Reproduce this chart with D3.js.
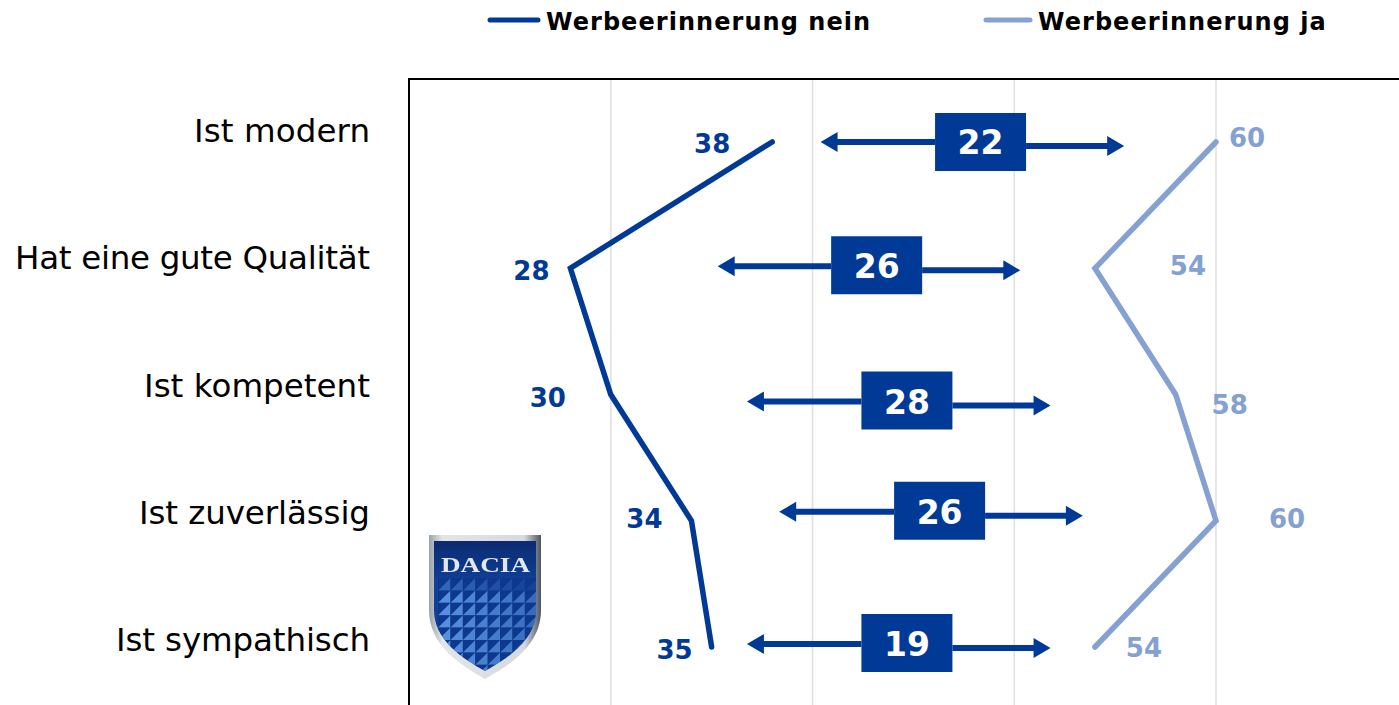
<!DOCTYPE html>
<html><head><meta charset="utf-8">
<script src="https://cdn.jsdelivr.net/npm/d3@7"></script>
<style>html,body{margin:0;padding:0;background:#fff;overflow:hidden}svg{display:block}text{font-family:"DejaVu Sans",Verdana,sans-serif}</style>
</head><body><svg id="c" width="1399" height="705"></svg>
<script>
const categories = ["Ist modern","Hat eine gute Qualität","Ist kompetent","Ist zuverlässig","Ist sympathisch"];
const nein = [38,28,30,34,35];
const ja = [60,54,58,60,54];
const gaps = [22,26,28,26,19];
const arrowLeft = [40.4,35.3,36.75,38.35,36.75];
const arrowRight = [55.45,50.3,51.8,53.4,51.8];
const gapCenter = [48.33,43.18,44.68,46.3,44.68];
const gridTicks = [30,40,50,60];
const seriesNames = ["Werbeerinnerung nein","Werbeerinnerung ja"];

const W=1399,H=705;
const dark="#003a96", light="#84a1d1";
const svg=d3.select("#c");
const x=d3.scaleLinear().domain([20,60]).range([409,1216]);
const y=d3.scalePoint().domain(categories).range([142,647]);
const yLabel=d3.scalePoint().domain(categories).range([142,651]);

// offsets of the labels from their points
const neinDx=[-60,-39,-63,-47,-37], neinDy=[1,2,2,-3,2];
const jaDx=[31,93,54,71,49], jaDy=[-5,-3,9,-3,0];
const boxDy=[0,-3,6,-10,-4];
const arrowDy=[0,1,1,1,1];
const labelWidths=[176,355,226,231,254];

// grid + frame
svg.append("g").selectAll("line").data(gridTicks).join("line")
 .attr("x1",d=>x(d)).attr("x2",d=>x(d)).attr("y1",79).attr("y2",H)
 .attr("stroke","#e0e0e0").attr("stroke-width",1.6);
svg.append("path").attr("d",`M${x(20)},${H}V79H${W}`).attr("fill","none").attr("stroke","#000").attr("stroke-width",2);

// category labels
svg.append("g").selectAll("text").data(categories).join("text")
 .attr("x",(c,i)=>370-labelWidths[i]).attr("y",c=>yLabel(c)).attr("font-size",32.5)
 .attr("textLength",(c,i)=>labelWidths[i]).attr("lengthAdjust","spacing").attr("fill","#000").text(c=>c);

// lines
const line=d3.line().x(d=>x(d.v)).y(d=>y(d.c));
[[nein,dark],[ja,light]].forEach(([s,col])=>{
 svg.append("path").datum(s.map((v,i)=>({v,c:categories[i]}))).attr("d",line)
  .attr("fill","none").attr("stroke",col).attr("stroke-width",5.5).attr("stroke-linecap","round").attr("stroke-linejoin","miter");
});

// value labels
function vals(s,col,dx,dy){
 svg.append("g").selectAll("text").data(s).join("text")
  .attr("x",(d,i)=>x(d)+dx[i]).attr("y",(d,i)=>y(categories[i])+dy[i]+10)
  .attr("text-anchor","middle").attr("font-size",26).attr("font-weight","bold").attr("fill",col).text(d=>d);
}
vals(nein,dark,neinDx,neinDy);
vals(ja,light,jaDx,jaDy);

// gap arrows + boxes
const bw=91,bh=58;
gaps.forEach((g,i)=>{
 const cy=y(categories[i])+boxDy[i], bx=x(gapCenter[i]);
 const gr=svg.append("g");
 const ly=cy+arrowDy[i], ry=ly+4;
 gr.append("line").attr("x1",bx-bw/2).attr("x2",x(arrowLeft[i])+14).attr("y1",ly).attr("y2",ly).attr("stroke",dark).attr("stroke-width",6);
 gr.append("path").attr("fill",dark).attr("d",`M${x(arrowLeft[i])},${ly}l17,-10v20z`);
 gr.append("line").attr("x1",bx+bw/2).attr("x2",x(arrowRight[i])-14).attr("y1",ry).attr("y2",ry).attr("stroke",dark).attr("stroke-width",6);
 gr.append("path").attr("fill",dark).attr("d",`M${x(arrowRight[i])},${ry}l-17,-10v20z`);
 gr.append("rect").attr("x",bx-bw/2).attr("y",cy-bh/2).attr("width",bw).attr("height",bh).attr("fill",dark);
 gr.append("text").attr("x",bx).attr("y",cy+12+arrowDy[i]).attr("text-anchor","middle").attr("font-size",33).attr("font-weight","bold").attr("fill","#fff").text(g);
});

// legend
[[488,540,546,dark,0],[984,1032,1038,light,1]].forEach(([a,b,t,col,i])=>{
 svg.append("line").attr("x1",a+2).attr("x2",b-2).attr("y1",20).attr("y2",20).attr("stroke",col).attr("stroke-width",5).attr("stroke-linecap","round");
 svg.append("text").attr("x",t).attr("y",30).attr("font-size",24).attr("font-weight","bold").attr("letter-spacing",1.05).attr("fill","#000").text(seriesNames[i]);
});

// logo
const logo=svg.append("g").attr("filter","url(#soft)");
const defs=svg.append("defs");
defs.append("filter").attr("id","soft").append("feGaussianBlur").attr("stdDeviation",0.5);
const g1=defs.append("linearGradient").attr("id","sh").attr("x1",0).attr("x2",0).attr("y1",0).attr("y2",1);
[[0,"#0b2a70"],[0.3,"#123f97"],[1,"#0f3f95"]].forEach(s=>g1.append("stop").attr("offset",s[0]).attr("stop-color",s[1]));
const g2=defs.append("linearGradient").attr("id","rim").attr("x1",0).attr("x2",1).attr("y1",0).attr("y2",0);
[[0,"#9aa2aa"],[0.12,"#e2e6e9"],[0.85,"#d5dade"],[1,"#4d5660"]].forEach(s=>g2.append("stop").attr("offset",s[0]).attr("stop-color",s[1]));
const outer="M429,535H541V610C541,645 510,665 485,679C460,665 429,645 429,610Z";
const inner="M434,541H536V610C536,640 508,658 485,671C462,658 434,640 434,610Z";
logo.append("path").attr("d",outer).attr("fill","url(#rim)");
logo.append("path").attr("d",inner).attr("fill","url(#sh)");
defs.append("clipPath").attr("id","ic").append("path").attr("d",inner);
const tg=logo.append("g").attr("clip-path","url(#ic)");
d3.range(0,8).forEach(r=>d3.range(0,8).forEach(c=>{
 const s=12.4, px=438+c*s, py=578+r*s, a=(r===0?0.45:0.95)-c*0.06;
 tg.append("path").attr("d",`M${px},${py+s}L${px+s},${py}V${py+s}Z`).attr("fill","#5a94e0").attr("opacity",a);
 tg.append("path").attr("d",`M${px},${py}H${px+s}L${px},${py+s}Z`).attr("fill","#0a3288").attr("opacity",.6);
}));
logo.append("text").attr("x",441).attr("y",572).attr("textLength",89).attr("lengthAdjust","spacingAndGlyphs").attr("font-size",20).attr("font-weight","bold").attr("style","font-family:'Liberation Serif',serif").attr("fill","#e4e7ea").text("DACIA");
</script></body></html>
